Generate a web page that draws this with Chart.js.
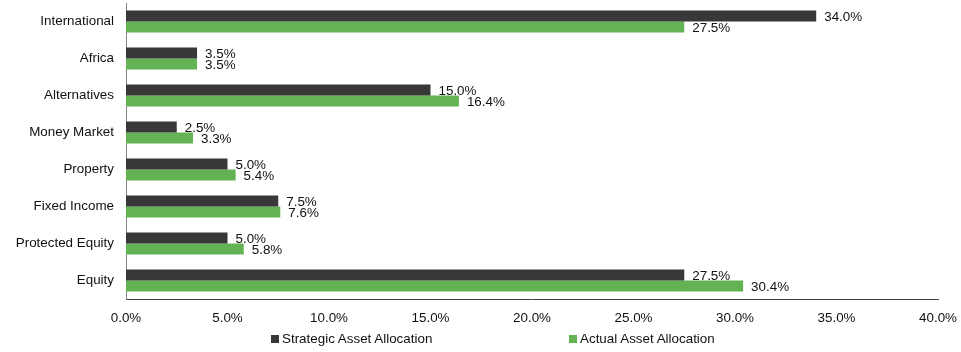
<!DOCTYPE html>
<html>
<head>
<meta charset="utf-8">
<script src="https://cdn.jsdelivr.net/npm/chart.js@4"></script>
<style>
  html, body { margin: 0; padding: 0; background: #fff; }
  #wrap { position: relative; width: 961px; height: 352px; }
  #legenda {
    position: absolute; left: 0; top: 331px; width: 961px;
    font: 13.4px "Liberation Sans", Arial, sans-serif; color: #111;
  }
  .item { position: absolute; top: 0; display: flex; align-items: center; }
  .caixa { width: 8px; height: 8px; margin-right: 3px; }
</style>
</head>
<body>
<div id="wrap">
  <canvas id="grafico" width="961" height="352"></canvas>
  <div id="legenda"></div>
</div>
<script>
// Categorias e séries (em %)
const categorias = ["International", "Africa", "Alternatives", "Money Market", "Property", "Fixed Income", "Protected Equity", "Equity"];
const estrategica = [34.0, 3.5, 15.0, 2.5, 5.0, 7.5, 5.0, 27.5];
const atual = [27.5, 3.5, 16.4, 3.3, 5.4, 7.6, 5.8, 30.4];
const series = ["Strategic Asset Allocation", "Actual Asset Allocation"];
const cores = ["#383838", "#63b253"];
const FONTE = '"Liberation Sans", Arial, sans-serif';
const TAM = 13.4;

// Escreve o valor no fim de cada barra
const rotulosBarras = {
  id: "rotulosBarras",
  afterDatasetsDraw(chart) {
    const ctx = chart.ctx;
    ctx.save();
    ctx.font = TAM + "px " + FONTE;
    ctx.fillStyle = "#111";
    ctx.textAlign = "left";
    ctx.textBaseline = "middle";
    chart.data.datasets.forEach((ds, i) => {
      chart.getDatasetMeta(i).data.forEach((bar, j) => {
        ctx.fillText(ds.data[j].toFixed(1) + "%", bar.x + 8, bar.y + 1);
      });
    });
    ctx.restore();
  },
};

new Chart(document.querySelector("#grafico"), {
  type: "bar",
  data: {
    labels: categorias,
    datasets: [
      { label: series[0], data: estrategica, backgroundColor: cores[0] },
      { label: series[1], data: atual, backgroundColor: cores[1] },
    ],
  },
  options: {
    indexAxis: "y",
    responsive: false,
    animation: false,
    layout: { padding: { top: 3, right: 23, left: 0, bottom: 0 } },
    datasets: { bar: { categoryPercentage: 0.6, barPercentage: 1.0 } },
    plugins: { legend: { display: false }, tooltip: { enabled: false } },
    scales: {
      x: {
        min: 0,
        max: 40,
        ticks: {
          stepSize: 5,
          padding: 11,
          color: "#111",
          font: { family: FONTE, size: TAM },
          callback: (v) => v.toFixed(1) + "%",
        },
        grid: { display: false, drawTicks: false },
        border: { display: true, color: "#404040", width: 1 },
        afterFit(scale) {
          scale.height = 53;
          scale.paddingLeft = 0;
          scale.paddingRight = 0;
        },
      },
      y: {
        ticks: {
          padding: 12,
          color: "#111",
          font: { family: FONTE, size: TAM },
        },
        grid: { display: false, drawTicks: false },
        border: { display: true, color: "#868686", width: 1 },
        afterFit(scale) {
          scale.width = 126;
          scale.paddingTop = 0;
          scale.paddingBottom = 0;
        },
      },
    },
  },
  plugins: [rotulosBarras],
});

// Legenda em HTML abaixo do gráfico
const legenda = document.querySelector("#legenda");
const posicoes = [271, 569];
series.forEach((nome, i) => {
  const el = document.createElement("div");
  el.className = "item";
  el.style.left = posicoes[i] + "px";
  el.innerHTML = `<span class="caixa" style="background:${cores[i]}"></span>${nome}`;
  legenda.appendChild(el);
});
</script>
</body>
</html>
